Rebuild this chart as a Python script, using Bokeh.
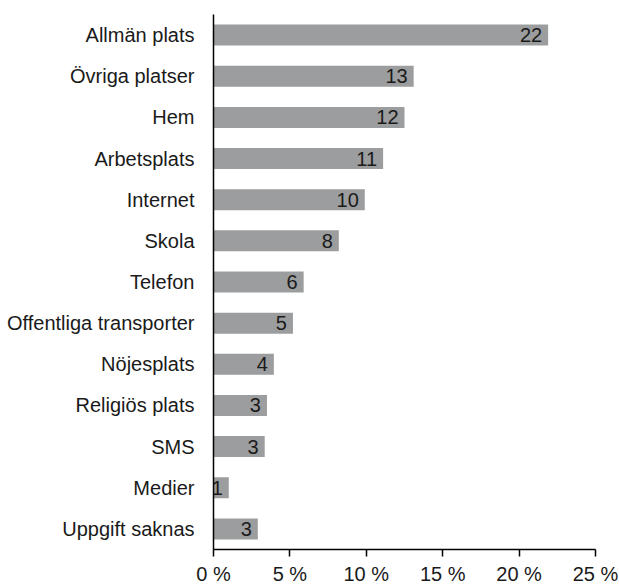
from bokeh.plotting import figure
from bokeh.models import ColumnDataSource, FixedTicker, FactorRange
from bokeh.core.properties import value
from bokeh.embed import file_html
from bokeh.resources import INLINE

categories = ["Allmän plats", "Övriga platser", "Hem", "Arbetsplats", "Internet",
              "Skola", "Telefon", "Offentliga transporter", "Nöjesplats",
              "Religiös plats", "SMS", "Medier", "Uppgift saknas"]
values = [21.9, 13.1, 12.5, 11.1, 9.9, 8.2, 5.9, 5.2, 3.95, 3.5, 3.35, 1.0, 2.9]
value_labels = ["22", "13", "12", "11", "10", "8", "6", "5", "4", "3", "3", "1", "3"]
x_ticks = [0, 5, 10, 15, 20, 25]
x_tick_labels = ["0 %", "5 %", "10 %", "15 %", "20 %", "25 %"]

FONT = "Liberation Sans"
TEXT = "#1a1a1a"

src = ColumnDataSource(dict(cat=categories, val=values, lab=value_labels))

p = figure(width=619, height=587, output_backend="svg", toolbar_location=None,
           y_range=FactorRange(factors=list(reversed(categories)), range_padding=0),
           x_range=(0, 25),
           min_border_left=213, min_border_right=24, min_border_top=14,
           min_border_bottom=36)

p.hbar(y="cat", right="val", left=0, height=0.51, source=src,
       fill_color="#9c9d9e", line_color=None)

p.text(x="val", y="cat", text="lab", source=src, x_offset=-6,
       text_align="right", text_baseline="middle",
       text_font=value(FONT), text_font_size="20px", text_color=TEXT)

p.outline_line_color = None
p.grid.visible = False

xa = p.xaxis[0]
xa.ticker = FixedTicker(ticks=x_ticks)
xa.major_label_overrides = {t: l for t, l in zip(x_ticks, x_tick_labels)}
xa.axis_line_color = "black"
xa.axis_line_width = 1.5
xa.major_tick_line_color = "black"
xa.major_tick_line_width = 1.5
xa.major_tick_out = 7
xa.major_tick_in = 0
xa.minor_tick_line_color = None
xa.major_label_standoff = 6
xa.major_label_text_font = FONT
xa.major_label_text_font_size = "20px"
xa.major_label_text_color = TEXT

ya = p.yaxis[0]
ya.axis_line_color = "black"
ya.axis_line_width = 1.5
ya.major_tick_line_color = None
ya.minor_tick_line_color = None
ya.major_label_standoff = 13
ya.major_label_text_font = FONT
ya.major_label_text_font_size = "20px"
ya.major_label_text_color = TEXT

open("out.html", "w").write(file_html(p, INLINE))
